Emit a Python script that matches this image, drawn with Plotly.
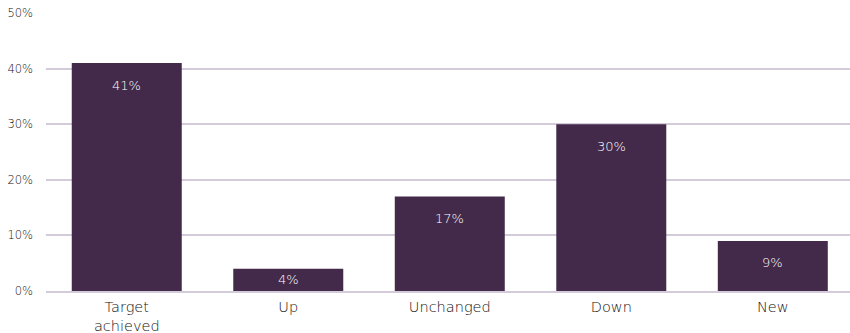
import plotly.graph_objects as go

categories = ["Target<br>achieved", "Up", "Unchanged", "Down", "New"]
values = [41, 4, 17, 30, 9]
labels = ["41%", "4%", "17%", "30%", "9%"]

bar_color = "#43294a"
grid_color = "#d3cbd9"
font_family = "'DejaVu Sans', sans-serif"

Y_MAX = 50
PLOT_H = 333 - 13 - 42
px_per_unit = PLOT_H / Y_MAX

fig = go.Figure(go.Bar(x=categories, y=values, marker_color=bar_color, marker_line_width=0,
                       hoverinfo="skip"))

for c, v, t in zip(categories, values, labels):
    shift = min(22, v * px_per_unit / 2)
    fig.add_annotation(x=c, y=v, text=t, showarrow=False, yanchor="middle", yshift=-shift,
                       font=dict(color="#ffffff", size=13, family=font_family, weight=300))

fig.update_layout(
    width=850, height=333,
    margin=dict(l=46, r=0, t=13, b=42),
    plot_bgcolor="white", paper_bgcolor="white",
    bargap=0.319,
    showlegend=False,
    font=dict(family=font_family, size=12, color="#333333"),
)
fig.update_yaxes(range=[0, Y_MAX], dtick=10, ticksuffix="%", gridcolor=grid_color, gridwidth=1.5,
                 zeroline=False, showline=False, tickfont=dict(size=11.5, color="#111111", weight=300),
                 ticks="", ticklabelstandoff=12, automargin=False)
fig.update_xaxes(range=[-0.5, 4.478], showline=True, linecolor=grid_color, linewidth=1.5, showgrid=False,
                 tickfont=dict(size=14.5, color="#111111", weight=300), ticks="", ticklabelstandoff=2,
                 automargin=False)
fig.write_html("out.html")
